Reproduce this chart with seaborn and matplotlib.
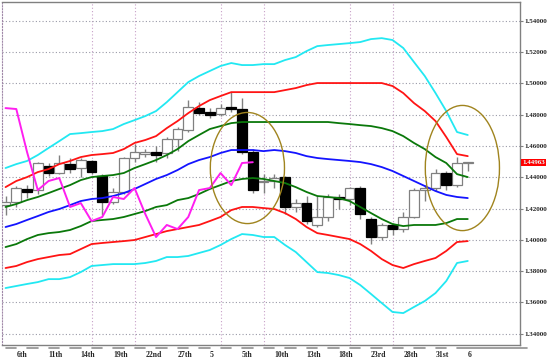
import numpy as np
import pandas as pd
import matplotlib
matplotlib.use("Agg")
import matplotlib.pyplot as plt
import matplotlib.transforms as mtransforms
from matplotlib.patches import Ellipse
import seaborn as sns

# --- daily candles ---
open_ = [1.4222, 1.4242, 1.4325, 1.4318, 1.4472, 1.4427, 1.4484, 1.4459, 1.4504, 1.4408,
         1.4242, 1.4306, 1.4523, 1.4548, 1.4561, 1.4555, 1.4644, 1.4702, 1.4842, 1.4817,
         1.4804, 1.4849, 1.4836, 1.4561, 1.4369, 1.4376, 1.4401, 1.4210, 1.4235, 1.4095,
         1.4146, 1.4274, 1.4261, 1.4331, 1.4133, 1.4018, 1.4095, 1.4069, 1.4146, 1.4318,
         1.4331, 1.4427, 1.4350, 1.4491]
high_ = [1.4280, 1.4345, 1.4350, 1.4500, 1.4490, 1.4540, 1.4520, 1.4520, 1.4510, 1.4420,
         1.4330, 1.4530, 1.4610, 1.4580, 1.4600, 1.4660, 1.4720, 1.4893, 1.4880, 1.4840,
         1.4870, 1.4944, 1.4906, 1.4580, 1.4420, 1.4420, 1.4410, 1.4260, 1.4280, 1.4280,
         1.4290, 1.4290, 1.4340, 1.4345, 1.4146, 1.4110, 1.4110, 1.4180, 1.4330, 1.4350,
         1.4450, 1.4440, 1.4530, 1.4500]
low_ = [1.4160, 1.4210, 1.4270, 1.4290, 1.4410, 1.4420, 1.4430, 1.4400, 1.4420, 1.4160,
        1.4230, 1.4290, 1.4500, 1.4530, 1.4500, 1.4520, 1.4570, 1.4690, 1.4800, 1.4780,
        1.4790, 1.4820, 1.4550, 1.4300, 1.4300, 1.4330, 1.4165, 1.4180, 1.4100, 1.4080,
        1.4120, 1.4200, 1.4220, 1.4133, 1.3973, 1.4000, 1.4030, 1.4050, 1.4140, 1.4250,
        1.4310, 1.4320, 1.4340, 1.4440]
close_ = [1.4240, 1.4331, 1.4306, 1.4491, 1.4427, 1.4491, 1.4452, 1.4510, 1.4433, 1.4242,
          1.4306, 1.4523, 1.4561, 1.4561, 1.4542, 1.4644, 1.4708, 1.4849, 1.4810, 1.4797,
          1.4842, 1.4836, 1.4561, 1.4318, 1.4376, 1.4395, 1.4210, 1.4235, 1.4120, 1.4146,
          1.4274, 1.4261, 1.4331, 1.4165, 1.4018, 1.4095, 1.4069, 1.4146, 1.4318, 1.4331,
          1.4427, 1.4350, 1.4491, 1.44963]

# --- bollinger bands (middle, +-1, +-2, +-3 sigma) ---
bb_up3 = [1.4459, 1.4484, 1.4504, 1.4542, 1.4587, 1.4631, 1.4676, 1.4682, 1.4689, 1.4695,
          1.4708, 1.4740, 1.4765, 1.4791, 1.4823, 1.4880, 1.4944, 1.5008, 1.5047, 1.5079,
          1.5111, 1.5130, 1.5117, 1.5117, 1.5123, 1.5123, 1.5149, 1.5168, 1.5206, 1.5238,
          1.5245, 1.5251, 1.5257, 1.5264, 1.5283, 1.5289, 1.5277, 1.5226, 1.5136, 1.5047,
          1.4938, 1.4823, 1.4689, 1.4670]
bb_up2 = [1.4337, 1.4376, 1.4401, 1.4433, 1.4452, 1.4484, 1.4504, 1.4529, 1.4542, 1.4548,
          1.4555, 1.4580, 1.4619, 1.4638, 1.4663, 1.4714, 1.4759, 1.4810, 1.4855, 1.4893,
          1.4919, 1.4944, 1.4944, 1.4944, 1.4944, 1.4944, 1.4957, 1.4970, 1.4989, 1.5002,
          1.5002, 1.5002, 1.5002, 1.5002, 1.5002, 1.5002, 1.4983, 1.4938, 1.4874, 1.4823,
          1.4759, 1.4657, 1.4548, 1.4535]
bb_up1 = [1.4210, 1.4229, 1.4254, 1.4274, 1.4299, 1.4325, 1.4350, 1.4382, 1.4401, 1.4408,
          1.4414, 1.4427, 1.4459, 1.4484, 1.4510, 1.4542, 1.4580, 1.4631, 1.4670, 1.4708,
          1.4727, 1.4746, 1.4753, 1.4753, 1.4753, 1.4753, 1.4753, 1.4753, 1.4753, 1.4753,
          1.4753, 1.4746, 1.4740, 1.4733, 1.4727, 1.4714, 1.4695, 1.4663, 1.4619, 1.4580,
          1.4529, 1.4491, 1.4420, 1.4401]
bb_mid = [1.4082, 1.4101, 1.4127, 1.4152, 1.4178, 1.4197, 1.4222, 1.4248, 1.4261, 1.4267,
          1.4280, 1.4299, 1.4325, 1.4357, 1.4389, 1.4414, 1.4446, 1.4484, 1.4510, 1.4529,
          1.4555, 1.4574, 1.4574, 1.4574, 1.4567, 1.4574, 1.4567, 1.4555, 1.4535, 1.4523,
          1.4516, 1.4510, 1.4504, 1.4497, 1.4484, 1.4465, 1.4440, 1.4408, 1.4376, 1.4344,
          1.4312, 1.4287, 1.4274, 1.4267]
bb_lo1 = [1.3954, 1.3973, 1.4005, 1.4031, 1.4043, 1.4050, 1.4063, 1.4088, 1.4120, 1.4127,
          1.4133, 1.4146, 1.4165, 1.4184, 1.4210, 1.4222, 1.4254, 1.4267, 1.4293, 1.4325,
          1.4350, 1.4376, 1.4389, 1.4395, 1.4389, 1.4376, 1.4363, 1.4337, 1.4306, 1.4280,
          1.4274, 1.4267, 1.4248, 1.4210, 1.4171, 1.4133, 1.4101, 1.4088, 1.4095, 1.4095,
          1.4095, 1.4107, 1.4133, 1.4133]
bb_lo2 = [1.3820, 1.3833, 1.3858, 1.3877, 1.3890, 1.3903, 1.3909, 1.3941, 1.3973, 1.3980,
          1.3986, 1.3992, 1.3999, 1.4018, 1.4037, 1.4056, 1.4069, 1.4082, 1.4095, 1.4120,
          1.4146, 1.4190, 1.4210, 1.4210, 1.4203, 1.4197, 1.4171, 1.4133, 1.4082, 1.4043,
          1.4031, 1.4018, 1.4005, 1.3973, 1.3929, 1.3877, 1.3839, 1.3820, 1.3845, 1.3865,
          1.3884, 1.3929, 1.3986, 1.3992]
bb_lo3 = [1.3692, 1.3705, 1.3718, 1.3730, 1.3749, 1.3749, 1.3762, 1.3794, 1.3833, 1.3839,
          1.3845, 1.3845, 1.3845, 1.3852, 1.3865, 1.3890, 1.3890, 1.3897, 1.3916, 1.3935,
          1.3967, 1.4005, 1.4037, 1.4031, 1.4018, 1.4018, 1.3967, 1.3922, 1.3858, 1.3794,
          1.3788, 1.3775, 1.3756, 1.3711, 1.3654, 1.3596, 1.3539, 1.3532, 1.3571, 1.3609,
          1.3660, 1.3737, 1.3852, 1.3865]

CHIKOU_SHIFT = 20  # lagging span: close plotted 20 bars back

date_labels = ["6th", "11th", "14th", "19th", "22nd", "27th", "5", "5th",
               "10th", "13th", "18th", "23rd", "28th", "31st", "6"]
price_ticks = [1.34, 1.36, 1.38, 1.40, 1.42, 1.44, 1.46, 1.48, 1.50, 1.52, 1.54]

BAND_COLORS = {
    "up3": "#22e8f2", "up2": "#ff1414", "up1": "#0a780a", "mid": "#1414ff",
    "lo1": "#0a780a", "lo2": "#ff1414", "lo3": "#22e8f2",
}


def main():
    n = len(close_)
    idx = np.arange(n)
    candles = pd.DataFrame({"idx": idx, "open": open_, "high": high_,
                            "low": low_, "close": close_})

    bands = pd.DataFrame({"idx": idx, "up3": bb_up3, "up2": bb_up2, "up1": bb_up1,
                          "mid": bb_mid, "lo1": bb_lo1, "lo2": bb_lo2, "lo3": bb_lo3})
    bands_long = bands.melt(id_vars="idx", var_name="band", value_name="price")

    chikou = pd.DataFrame({"idx": idx[:n - CHIKOU_SHIFT],
                           "price": close_[CHIKOU_SHIFT:]})

    sns.set_style("white")
    plt.rcParams["font.family"] = ["Liberation Serif", "DejaVu Serif"]

    fig = plt.figure(figsize=(5.5, 3.59), dpi=100)
    ax = fig.add_axes([2 / 550, 14 / 359, 518 / 550, 343 / 359])

    # --- candles ---
    up = candles["close"] >= candles["open"]
    body_lo = candles[["open", "close"]].min(axis=1)
    body_h = (candles["close"] - candles["open"]).abs().clip(lower=0.0003)
    ax.vlines(candles["idx"], candles["low"], candles["high"], color="#808080",
              lw=1.0, zorder=2)
    ax.bar(candles["idx"][up], body_h[up], bottom=body_lo[up], width=0.9,
           facecolor="white", edgecolor="#808080", lw=0.9, zorder=3)
    ax.bar(candles["idx"][~up], body_h[~up], bottom=body_lo[~up], width=0.9,
           facecolor="black", edgecolor="black", lw=0.9, zorder=3)

    # --- bands + lagging span ---
    sns.lineplot(data=bands_long, x="idx", y="price", hue="band", palette=BAND_COLORS,
                 units="band", estimator=None, legend=False, lw=1.3, ax=ax, zorder=4)
    sns.lineplot(data=chikou, x="idx", y="price", color="#ff1ef0", lw=1.4,
                 ax=ax, zorder=5)

    # hand-drawn highlight circles
    for cx, w, h in [(22.5, 6.9, 0.071), (42.5, 6.9, 0.080)]:
        ax.add_patch(Ellipse((cx, 1.4459), w, h, fill=False, edgecolor="#a0841e",
                             lw=1.0, zorder=6))

    ax.set_xlim(-0.33, 47.86)
    ax.set_ylim(1.3328, 1.5520)

    # --- axes, grid ---
    ax.yaxis.tick_right()
    ax.set_yticks(price_ticks)
    ax.set_yticklabels([f"{p:.5f}" for p in price_ticks])
    ax.set_xticks(np.arange(1, n, 3)[:len(date_labels)])
    ax.set_xticklabels(date_labels, ha="left")
    ax.set_xticks(np.arange(4, 41, 4), minor=True)
    ax.tick_params(axis="x", which="both", length=0, pad=4, labelsize=5.6)
    ax.tick_params(axis="y", length=2, pad=1, labelsize=5.0, color="#808080")
    for lbl in ax.get_xticklabels() + ax.get_yticklabels():
        lbl.set_fontweight("bold")
    ax.grid(axis="y", which="major", ls=(0, (1, 2)), color="#9a9aa8", lw=0.8)
    ax.grid(axis="x", which="minor", ls=(0, (1, 2)), color="#c8a0c8", lw=0.8)
    ax.set_axisbelow(True)
    ax.set_xlabel("")
    ax.set_ylabel("")

    for side in ["right", "bottom", "top"]:
        ax.spines[side].set_color("#808080")
        ax.spines[side].set_linewidth(1.0)
    ax.spines["left"].set_color("#a088a8")
    ax.spines["left"].set_linestyle(":")

    # time-scale dashes under the axis
    trans_x = mtransforms.blended_transform_factory(ax.transData, ax.transAxes)
    for c in np.arange(0.5, 41, 2):
        ax.plot([c - 0.5, c + 0.5], [-0.008, -0.008], color="#909090", lw=1.2,
                transform=trans_x, clip_on=False)
    ax.plot([42.0, 48.5], [-0.008, -0.008], color="#909090", lw=1.2,
            transform=trans_x, clip_on=False)

    # current price box
    trans_y = mtransforms.blended_transform_factory(ax.transAxes, ax.transData)
    ax.text(1.004, close_[-1], f"{close_[-1]:.5f}", transform=trans_y, ha="left",
            va="center", fontsize=5.0, fontweight="bold", color="#e8ffff",
            bbox=dict(facecolor="#ff0000", edgecolor="none", pad=0.8), zorder=10)

    fig.savefig("out.png", dpi=100)


if __name__ == "__main__":
    main()
